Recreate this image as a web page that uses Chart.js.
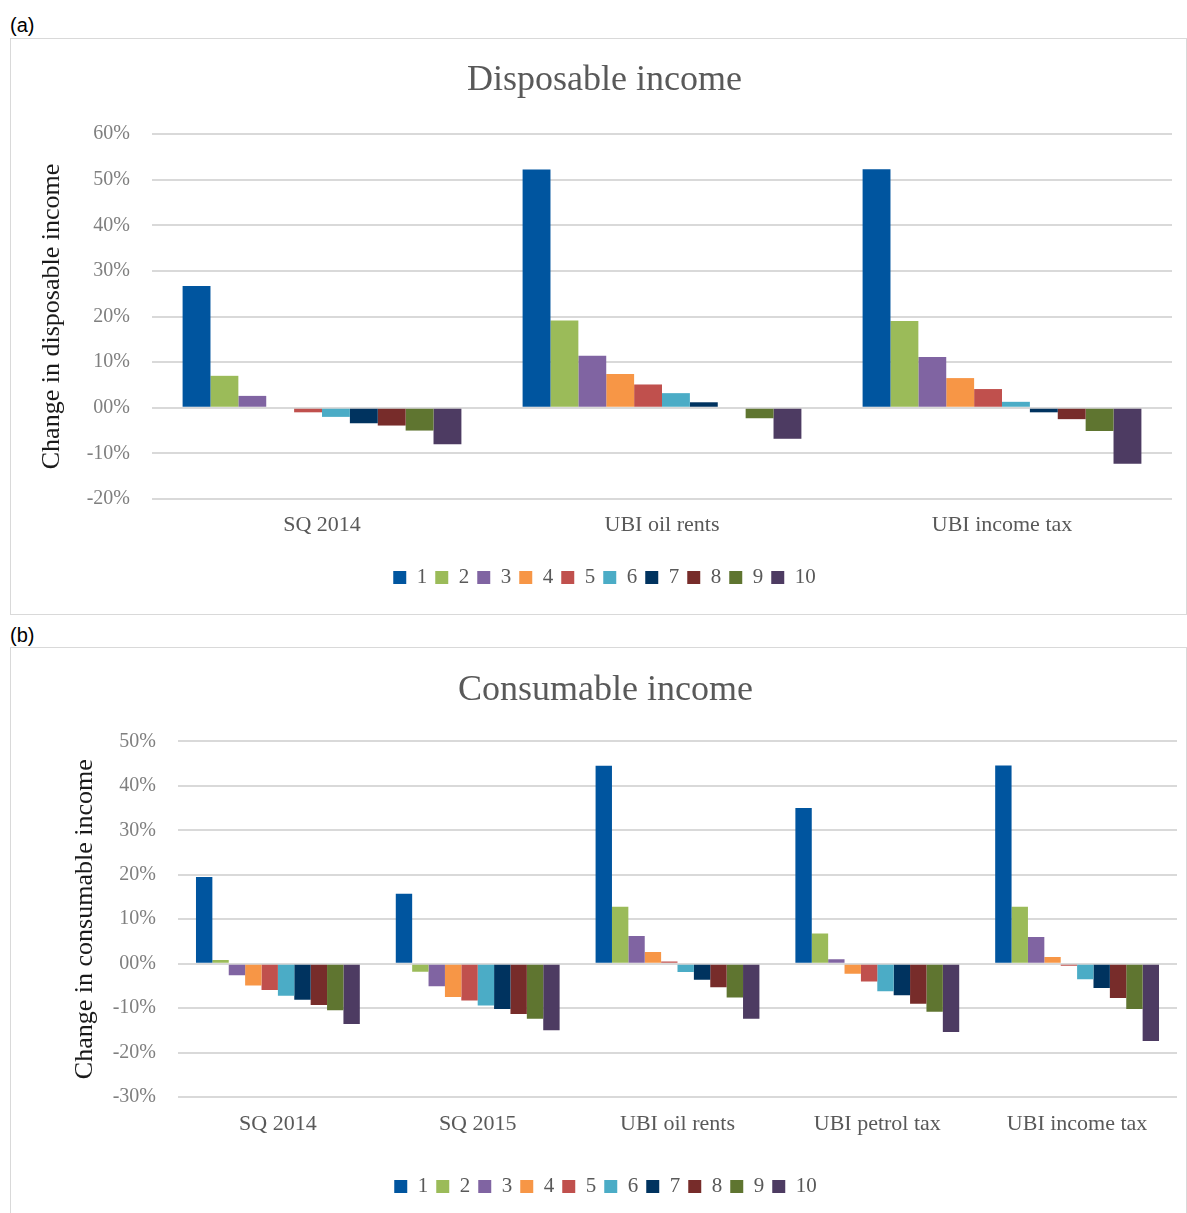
<!DOCTYPE html>
<html>
<head>
<meta charset="utf-8">
<script src="https://cdn.jsdelivr.net/npm/chart.js@4.4.0/dist/chart.umd.min.js"></script>
<style>
  body { margin: 0; background: #fff; width: 1187px; height: 1213px; position: relative; overflow: hidden; }
  .tag { position: absolute; left: 10px; font: 20px "Liberation Sans", Arial, sans-serif; color: #000; }
  .panel { position: absolute; left: 10px; width: 1175px; border: 1px solid #d9d9d9; background: #fff; }
  .panel canvas { position: absolute; left: 0; top: 0; }
</style>
</head>
<body>
<div class="tag" style="top:14px">(a)</div>
<div class="panel" style="top:38px;height:575px"><canvas id="chartA"></canvas></div>
<div class="tag" style="top:624px">(b)</div>
<div class="panel" style="top:647px;height:580px"><canvas id="chartB"></canvas></div>
<script>
// --- data (values in %)
const deciles = ['1', '2', '3', '4', '5', '6', '7', '8', '9', '10'];
const colors = ['#00559f', '#9bbb59', '#8064a2', '#f79646', '#c0504d', '#4bacc6', '#00335f', '#772c2a', '#5f7530', '#4d3b62'];

// (a) disposable income
const scenariosA = ['SQ 2014', 'UBI oil rents', 'UBI income tax'];
const dispSq2014 = [26.7, 7.0, 2.6, 0, -1.0, -2.0, -3.4, -3.9, -5.0, -8.0];
const dispOilRents = [52.2, 19.1, 11.4, 7.4, 5.1, 3.2, 1.2, 0, -2.3, -6.8];
const dispIncomeTax = [52.3, 19.0, 11.1, 6.5, 4.1, 1.3, -1.0, -2.5, -5.1, -12.3];

// (b) consumable income
const scenariosB = ['SQ 2014', 'SQ 2015', 'UBI oil rents', 'UBI petrol tax', 'UBI income tax'];
const consSq2014 = [19.5, 0.8, -2.6, -4.9, -5.9, -7.2, -8.1, -9.3, -10.5, -13.6];
const consSq2015 = [15.7, -1.8, -5.1, -7.5, -8.3, -9.4, -10.2, -11.3, -12.4, -15.0];
const consOilRents = [44.5, 12.8, 6.2, 2.6, 0.5, -1.9, -3.6, -5.3, -7.6, -12.4];
const consPetrolTax = [35.0, 6.8, 1.0, -2.3, -4.0, -6.2, -7.1, -9.0, -10.8, -15.4];
const consIncomeTax = [44.6, 12.8, 6.0, 1.5, -0.5, -3.5, -5.5, -7.7, -10.2, -17.4];

const SERIF = '"Liberation Serif", "DejaVu Serif", serif';

function pct(v) {
  const a = Math.abs(Math.round(v));
  return (v < 0 ? '-' : '') + String(a).padStart(2, '0') + '%';
}

// one dataset per decile, built from the scenario rows
function buildDatasets(rows) {
  return deciles.map((d, i) => ({
    label: d,
    data: rows.map(r => r[i]),
    backgroundColor: colors[i],
    borderWidth: 0,
    barPercentage: 1,
    categoryPercentage: 0.82
  }));
}

function makeChart(id, w, h, cats, rows, o) {
  const cv = document.getElementById(id);
  cv.width = w; cv.height = h;
  return new Chart(cv.getContext('2d'), {
    type: 'bar',
    data: { labels: cats, datasets: buildDatasets(rows) },
    options: {
      responsive: false,
      animation: false,
      layout: { padding: { left: o.left, right: o.right, top: 0, bottom: o.bottom } },
      plugins: {
        title: {
          display: true, text: o.title, color: '#595959',
          font: { family: SERIF, size: 36, weight: 'normal' },
          padding: { top: o.titleTop, bottom: o.titleBottom }
        },
        legend: {
          position: 'bottom',
          labels: { boxWidth: 13, boxHeight: 13, padding: 8, color: '#595959', font: { family: SERIF, size: 21 } }
        },
        tooltip: { enabled: false }
      },
      scales: {
        x: {
          grid: { display: false }, border: { display: false },
          ticks: { color: '#595959', padding: o.xpad, font: { family: SERIF, size: 22 } },
          afterFit: s => { s.height = o.xh; }
        },
        y: {
          min: o.min, max: o.max,
          grid: { color: '#d9d9d9', lineWidth: 2, drawTicks: false },
          border: { display: false },
          ticks: { stepSize: 10, padding: 22, color: '#7f7f7f', font: { family: SERIF, size: 20 }, callback: v => pct(v) },
          title: {
            display: true, text: o.ytitle, color: '#1a1a1a',
            font: { family: SERIF, size: 26 }, padding: { top: o.ytitlePad, bottom: 0 }
          },
          afterFit: s => { s.width = o.yw; }
        }
      }
    }
  });
}

makeChart('chartA', 1175, 575, scenariosA, [dispSq2014, dispOilRents, dispIncomeTax], {
  title: 'Disposable income', ytitle: 'Change in disposable income',
  min: -20, max: 60, left: 26, yw: 115, right: 14, bottom: 16, xh: 60, xpad: 5,
  titleTop: 19.5, titleBottom: 32.3, ytitlePad: 0
});

makeChart('chartB', 1175, 565, scenariosB, [consSq2014, consSq2015, consOilRents, consPetrolTax, consIncomeTax], {
  title: 'Consumable income', ytitle: 'Change in consumable income',
  min: -30, max: 50, left: 23, yw: 144, right: 9, bottom: 6, xh: 71, xpad: 6,
  titleTop: 21.4, titleBottom: 28.8, ytitlePad: 36
});
</script>
</body>
</html>
